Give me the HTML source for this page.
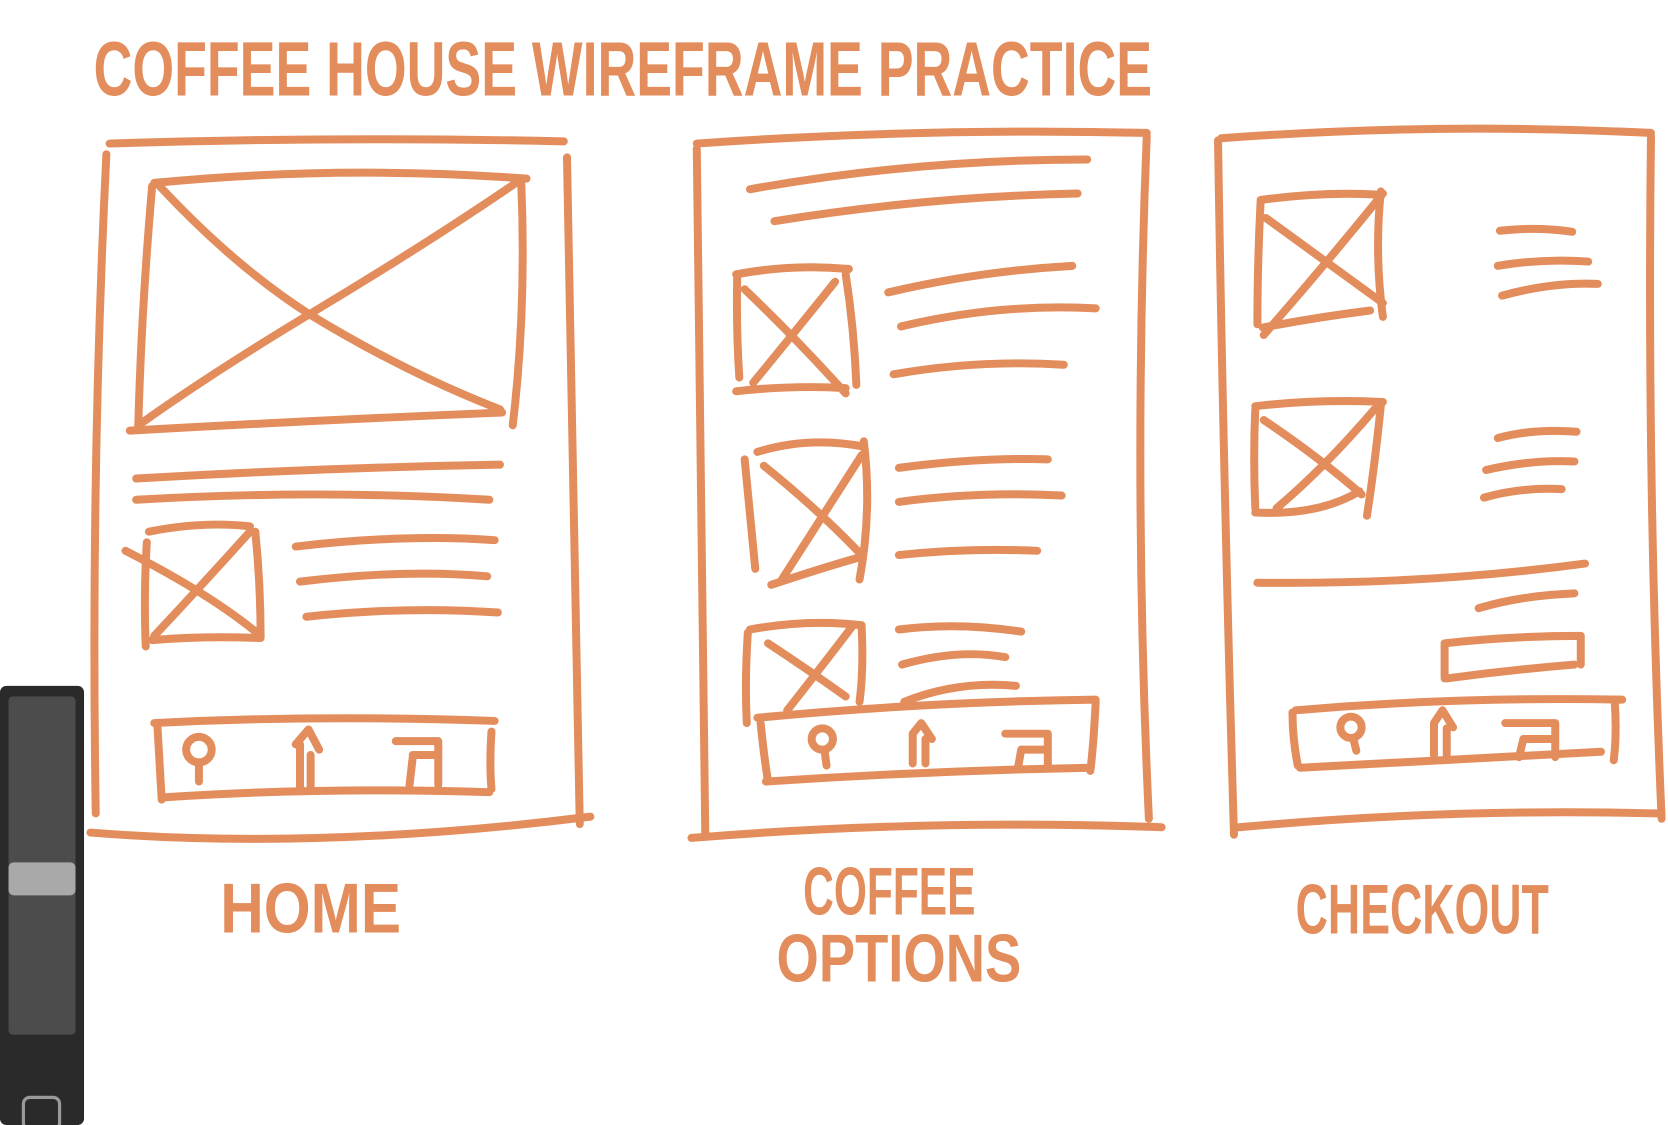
<!DOCTYPE html>
<html><head><meta charset="utf-8"><style>
html,body{margin:0;padding:0;background:#fff;overflow:hidden}
svg{display:block}
</style></head><body>
<svg width="1668" height="1125" viewBox="0 0 1568 1058" preserveAspectRatio="none" xmlns="http://www.w3.org/2000/svg">
<rect width="1568" height="1058" fill="#fff"/>
<rect x="0" y="645" width="79" height="413" rx="6" fill="#2a2a2a"/>
<rect x="8" y="655" width="63" height="318" rx="4" fill="#4c4c4c"/>
<rect x="8" y="811" width="63" height="31" rx="5" fill="#a9a9a9"/>
<rect x="22" y="1032" width="34" height="30" rx="6" fill="none" stroke="#9a9a9a" stroke-width="3"/>
<g fill="#E38C5C" font-family="'Liberation Sans Narrow','Liberation Sans',sans-serif" font-weight="bold">
<text x="88" y="90" font-size="72" textLength="995" lengthAdjust="spacingAndGlyphs">COFFEE HOUSE WIREFRAME PRACTICE</text>
<text x="207" y="877" font-size="66" textLength="170" lengthAdjust="spacingAndGlyphs">HOME</text>
<text x="755" y="860" font-size="64" textLength="162" lengthAdjust="spacingAndGlyphs">COFFEE</text>
<text x="730" y="923" font-size="64" textLength="230" lengthAdjust="spacingAndGlyphs">OPTIONS</text>
<text x="1218" y="878" font-size="66" textLength="238" lengthAdjust="spacingAndGlyphs">CHECKOUT</text>
</g>
<g fill="none" stroke="#E38C5C" stroke-width="7.5" stroke-linecap="round" stroke-linejoin="round">
<path d="M103 135 Q320 128 530 133 M100 145 Q85 450 90 765 M533 148 Q540 460 545 775 M85 783 Q300 800 555 768"/>
<path d="M145 172 Q320 155 495 168 M143 175 Q133 290 130 400 M490 172 Q495 290 482 400 M122 405 Q300 395 472 388"/>
<path d="M150 175 Q220 250 290 295 Q380 350 470 385 M488 170 Q400 230 300 290 Q200 350 130 400"/>
<path d="M128 450 Q300 440 470 437 M128 470 Q300 460 460 470"/>
<path d="M140 500 Q190 490 235 495 M138 510 Q135 560 137 608 M240 500 Q245 550 245 600 M143 602 Q190 598 244 600 M118 518 Q200 560 245 598 M235 500 Q190 550 145 598"/>
<path d="M278 514 Q380 502 465 508 M282 547 Q380 535 458 542 M288 580 Q380 570 468 576"/>
<path d="M145 680 Q300 672 465 678 M148 683 Q150 720 152 752 M462 688 Q460 720 462 742 M152 750 Q300 740 460 745"/>
<circle cx="187" cy="705" r="12"/><path d="M187 717 V735"/>
<path d="M282 740 V700 M278 700 L290 686 L300 705 M292 740 V710"/>
<path d="M372 697 H412 V738 M388 710 H412 M385 738 L388 712"/>
<path d="M655 135 Q870 120 1078 125 M655 140 Q660 460 663 785 M1078 128 Q1065 450 1080 770 M650 788 Q870 770 1092 778"/>
<path d="M705 178 Q860 150 1022 150 M728 208 Q870 185 1013 182"/>
<path d="M692 258 Q745 248 798 253 M693 260 Q692 310 695 355 M795 258 Q803 310 805 362 M692 368 Q745 362 795 365 M700 272 Q750 320 795 370 M785 265 Q745 315 708 360"/>
<path d="M835 275 Q920 255 1008 250 M847 307 Q940 285 1030 290 M840 352 Q920 338 1000 343"/>
<path d="M712 425 Q760 410 812 420 M700 432 Q705 485 710 535 M812 415 Q820 480 808 545 M725 550 Q770 535 805 525 M718 438 Q770 480 808 520 M810 428 Q770 490 735 545"/>
<path d="M845 440 Q920 430 985 432 M845 472 Q920 462 998 466 M845 522 Q910 515 975 518"/>
<path d="M705 592 Q760 582 810 588 M703 595 Q700 640 702 680 M810 590 Q812 630 808 660 M722 605 Q760 630 795 655 M802 588 Q770 630 740 668"/>
<path d="M845 592 Q900 585 960 594 M848 625 Q900 610 945 618 M850 660 Q900 640 955 645"/>
<path d="M712 675 Q870 660 1030 658 M715 680 Q718 710 722 735 M1030 660 Q1028 700 1025 725 M720 735 Q870 725 1025 722"/>
<circle cx="773" cy="695" r="10"/><path d="M775 705 L777 720"/>
<path d="M858 718 V690 L866 680 L876 695 M870 718 V695"/>
<path d="M945 690 H985 V722 M960 705 H983 M957 722 L960 705"/>
<path d="M1148 130 Q1350 115 1552 125 M1145 132 Q1150 450 1160 785 M1552 128 Q1548 450 1562 770 M1165 778 Q1360 760 1558 765"/>
<path d="M1185 188 Q1245 180 1295 183 M1185 190 Q1182 250 1182 305 M1298 180 Q1292 240 1300 298 M1187 308 Q1240 298 1288 292 M1190 205 Q1245 245 1300 285 M1300 182 Q1245 250 1188 315"/>
<path d="M1410 217 Q1445 213 1478 218 M1408 250 Q1450 243 1493 246 M1412 278 Q1460 265 1502 267"/>
<path d="M1180 382 Q1240 375 1300 378 M1180 385 Q1178 430 1180 478 M1298 382 Q1292 440 1285 485 M1180 482 Q1240 485 1278 462 M1188 395 Q1240 430 1280 465 M1292 385 Q1245 440 1200 478"/>
<path d="M1408 412 Q1440 403 1482 406 M1397 442 Q1440 432 1480 434 M1395 468 Q1430 458 1468 460"/>
<path d="M1182 548 Q1340 550 1490 530 M1390 572 Q1430 560 1480 558"/>
<path d="M1358 605 Q1420 598 1486 598 M1358 605 V638 M1486 598 V625 M1360 638 Q1420 630 1480 625"/>
<path d="M1218 668 Q1370 655 1525 658 M1215 670 Q1215 695 1220 720 M1518 662 Q1520 690 1517 715 M1222 722 Q1360 715 1505 707"/>
<circle cx="1270" cy="684" r="10"/><path d="M1272 694 L1275 706"/>
<path d="M1348 710 V680 L1356 668 L1366 684 M1360 710 V685"/>
<path d="M1415 680 H1462 V712 M1432 695 H1460 M1428 712 L1432 695"/>
</g>
</svg>
</body></html>
